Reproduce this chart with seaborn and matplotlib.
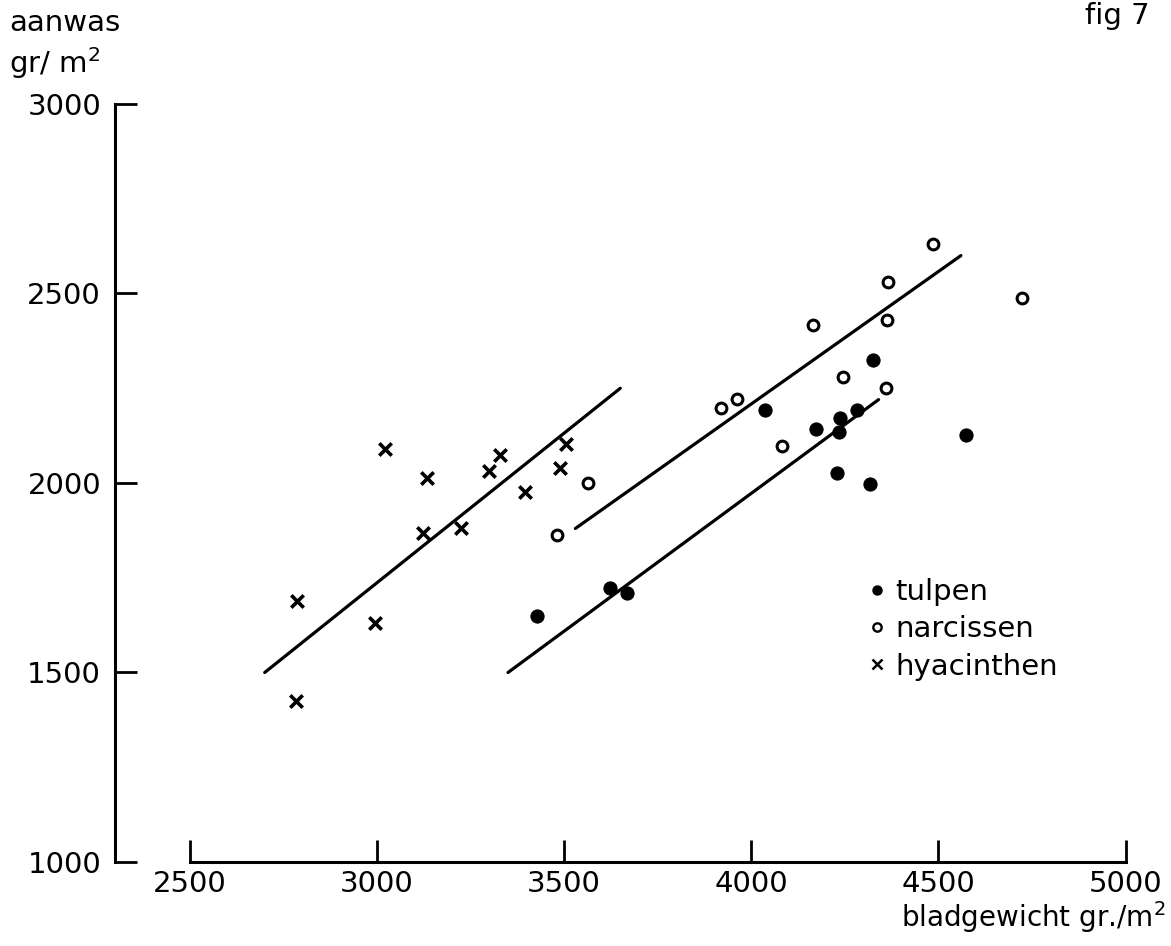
import matplotlib
matplotlib.use("Agg")
import matplotlib.pyplot as plt
import seaborn as sns
from matplotlib.lines import Line2D

tulpen_x = [3427, 3622, 3667, 4036, 4172, 4228, 4233, 4236, 4282, 4316, 4324, 4573]
tulpen_y = [1649, 1723, 1710, 2193, 2142, 2026, 2135, 2171, 2193, 1997, 2325, 2127]

narcissen_x = [3480, 3563, 3918, 3961, 4081, 4164, 4244, 4359, 4362, 4364, 4485, 4722]
narcissen_y = [1863, 2000, 2198, 2222, 2098, 2417, 2280, 2251, 2430, 2530, 2631, 2488]

hyacinthen_x = [2783, 2786, 2994, 3021, 3122, 3133, 3224, 3299, 3328, 3395, 3488, 3504]
hyacinthen_y = [1425, 1689, 1631, 2090, 1868, 2013, 1881, 2032, 2074, 1976, 2040, 2103]

# getekende lijnen (begin- en eindpunt)
lijn_tulpen_x = [3350, 4340]
lijn_tulpen_y = [1500, 2220]
lijn_narcissen_x = [3530, 4560]
lijn_narcissen_y = [1880, 2600]
lijn_hyacinthen_x = [2700, 3650]
lijn_hyacinthen_y = [1500, 2250]

x_ticks = [2500, 3000, 3500, 4000, 4500, 5000]
y_ticks = [1000, 1500, 2000, 2500, 3000]
legend_labels = ["tulpen", "narcissen", "hyacinthen"]

sns.set_style("ticks")
plt.rcParams["font.family"] = ["DejaVu Sans"]
plt.rcParams["mathtext.fontset"] = "dejavusans"
plt.rcParams["text.color"] = "black"

fig = plt.figure(figsize=(11.71, 9.46), dpi=100)
ax = fig.add_axes([0.0982, 0.0888, 0.895, 0.8213])

# lijnen
for lx, ly in [(lijn_hyacinthen_x, lijn_hyacinthen_y),
               (lijn_narcissen_x, lijn_narcissen_y),
               (lijn_tulpen_x, lijn_tulpen_y)]:
    sns.lineplot(x=lx, y=ly, color="black", lw=2.3, ax=ax)

# punten
sns.scatterplot(x=tulpen_x, y=tulpen_y, marker="o", color="black",
                edgecolor="black", s=90, ax=ax, zorder=3)
sns.scatterplot(x=narcissen_x, y=narcissen_y, marker="o", color="white",
                edgecolor="black", linewidth=2.2, s=60, ax=ax, zorder=3)
sns.scatterplot(x=hyacinthen_x, y=hyacinthen_y, marker="x", color="black",
                linewidth=2.6, s=80, ax=ax, zorder=3)

ax.set_xlim(2300, 5100)
ax.set_ylim(1000, 3050)
ax.set_xticks(x_ticks)
ax.set_yticks(y_ticks)
ax.set_xticklabels([str(t) for t in x_ticks])
ax.set_yticklabels([str(t) for t in y_ticks])

for side in ["top", "right"]:
    ax.spines[side].set_visible(False)
ax.spines["left"].set_bounds(1000, 3000)
ax.spines["bottom"].set_bounds(2500, 5000)
for side in ["left", "bottom"]:
    ax.spines[side].set_linewidth(2.2)
    ax.spines[side].set_color("black")

ax.tick_params(axis="both", direction="in", length=16, width=2.0,
               labelsize=21, colors="black", bottom=True, left=True)
ax.tick_params(axis="x", pad=6)
ax.tick_params(axis="y", pad=10)

# aslabels
fig.text(9 / 1171, 1 - 23 / 946, "aanwas", ha="left", va="center", fontsize=21)
fig.text(9 / 1171, 1 - 63 / 946, "gr/ m$^2$", ha="left", va="center", fontsize=21)
fig.text(1165 / 1171, 1 - 927 / 946, "bladgewicht gr./m$^2$", ha="right",
         va="baseline", fontsize=20)
fig.text(1150 / 1171, 1 - 16 / 946, "fig 7", ha="right", va="center", fontsize=21)

# legenda
handles = [
    Line2D([], [], marker="o", ls="none", color="black", markersize=6.5),
    Line2D([], [], marker="o", ls="none", markerfacecolor="white",
           markeredgecolor="black", markeredgewidth=1.7, markersize=6),
    Line2D([], [], marker="x", ls="none", color="black", markeredgewidth=1.8,
           markersize=6.5),
]
ax.legend(handles, legend_labels, loc="upper left",
          bbox_to_anchor=(868 / 1171, 1 - 578 / 946), bbox_transform=fig.transFigure,
          frameon=False, fontsize=21, handlelength=0.6, handletextpad=0.35,
          labelspacing=0.32, borderpad=0, borderaxespad=0)

fig.savefig("out.png", dpi=100)
